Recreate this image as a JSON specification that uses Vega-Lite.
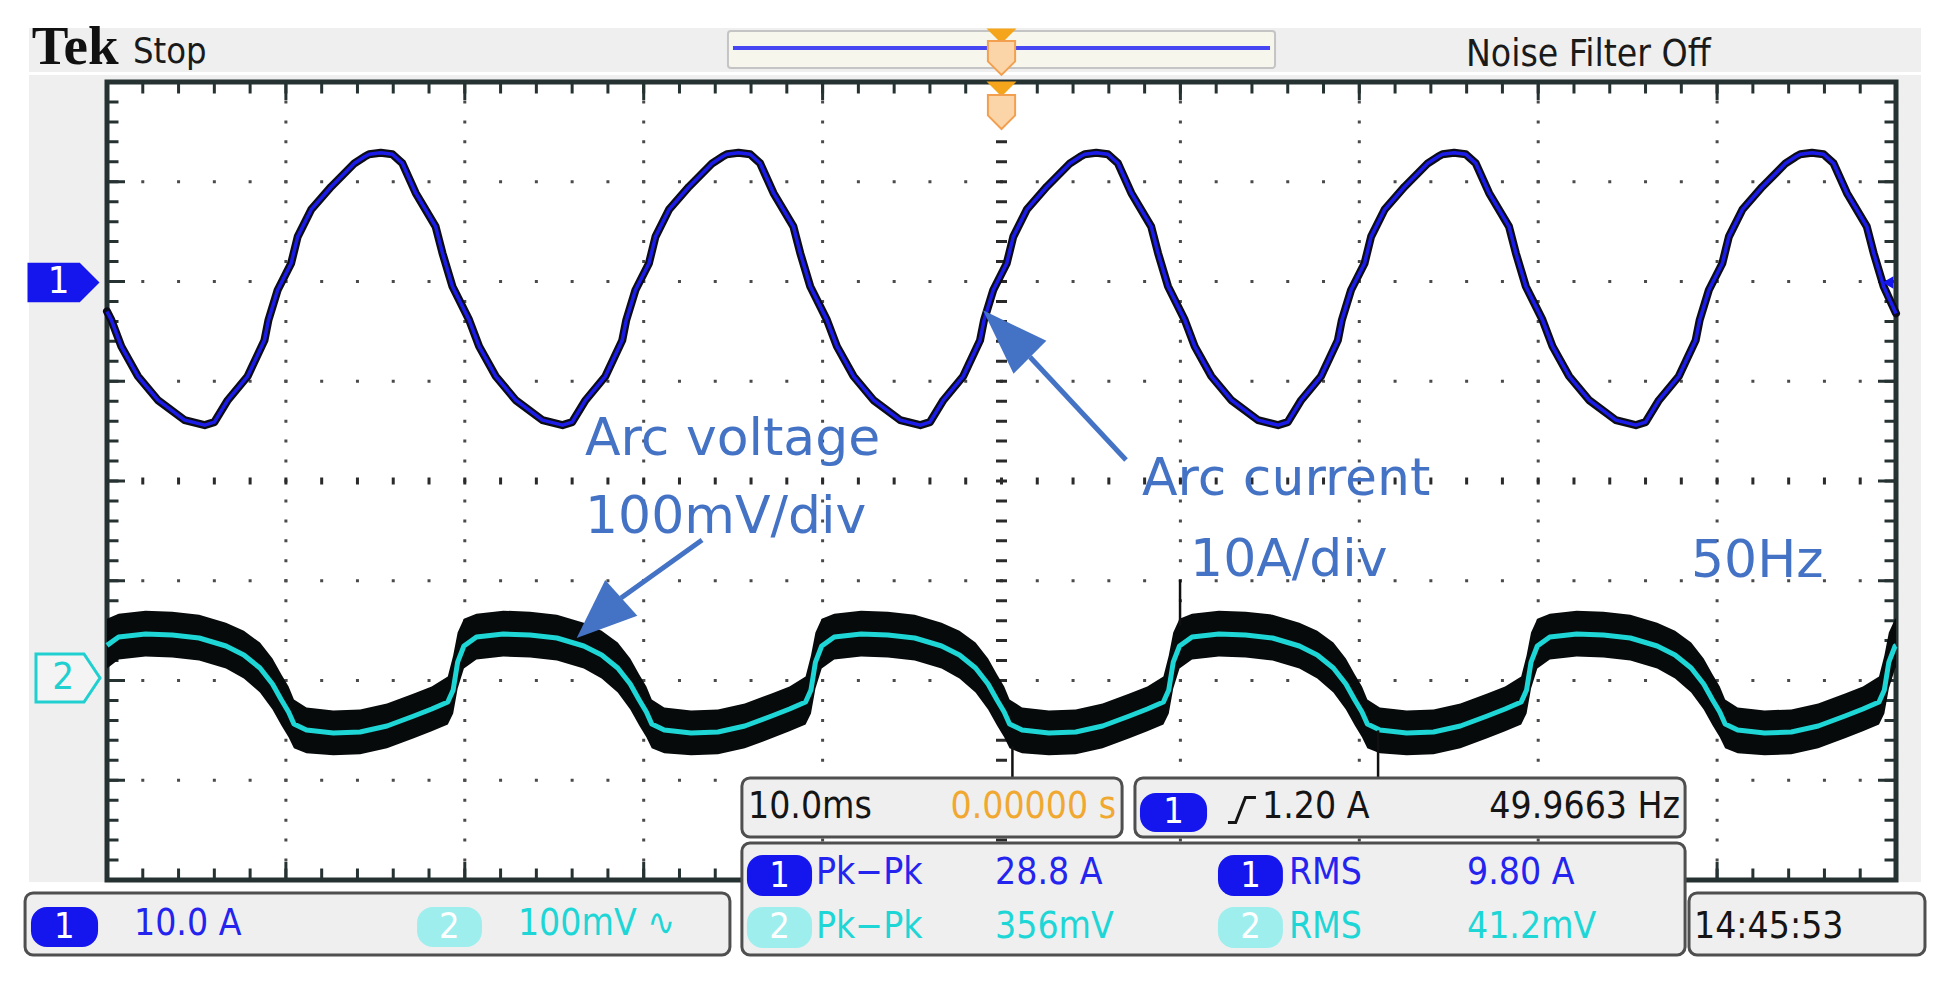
{
"$schema":"https://vega.github.io/schema/vega-lite/v6.json",
"width":1789,"height":798,
"autosize":{"type":"none"},
"padding":{"left":107,"top":82,"right":55,"bottom":118},
"background":"#ffffff",
"config":{"view":{"stroke":null}},
"datasets":{
"cur":[{"t":-50,"a":-3},{"t":-49.76,"a":-3.85},{"t":-49.2,"a":-6.5},{"t":-48.27,"a":-9.5},{"t":-47.15,"a":-11.9},{"t":-45.66,"a":-13.9},{"t":-44.54,"a":-14.4},
{"t":-44,"a":-14.1},{"t":-43.25,"a":-11.9},{"t":-42.14,"a":-9.5},{"t":-41.2,"a":-5.9},{"t":-40.98,"a":-3.9},{"t":-40.46,"a":-0.85},{"t":-39.71,"a":1.8},{"t":-39.34,"a":4.5},{"t":-38.59,"a":7.2},{"t":-37.47,"a":9.5},{"t":-36.17,"a":11.85},{"t":-35.61,"a":12.5},{"t":-35.35,"a":12.75},{"t":-34.7,"a":12.9},{"t":-34.05,"a":12.75},{"t":-33.49,"a":11.85},{"t":-32.74,"a":8.85},{"t":-31.63,"a":5.5},{"t":-31.25,"a":2.85},{"t":-30.69,"a":-0.5},{"t":-29.76,"a":-3.85},{"t":-29.2,"a":-6.5},{"t":-28.27,"a":-9.5},{"t":-27.15,"a":-11.9},{"t":-25.66,"a":-13.9},{"t":-24.54,"a":-14.4},
{"t":-24,"a":-14.1},{"t":-23.25,"a":-11.9},{"t":-22.14,"a":-9.5},{"t":-21.2,"a":-5.9},{"t":-20.98,"a":-3.9},{"t":-20.46,"a":-0.85},{"t":-19.71,"a":1.8},{"t":-19.34,"a":4.5},{"t":-18.59,"a":7.2},{"t":-17.47,"a":9.5},{"t":-16.17,"a":11.85},{"t":-15.61,"a":12.5},{"t":-15.35,"a":12.75},{"t":-14.7,"a":12.9},{"t":-14.05,"a":12.75},{"t":-13.49,"a":11.85},{"t":-12.74,"a":8.85},{"t":-11.63,"a":5.5},{"t":-11.25,"a":2.85},{"t":-10.69,"a":-0.5},{"t":-9.76,"a":-3.85},{"t":-9.2,"a":-6.5},{"t":-8.27,"a":-9.5},{"t":-7.15,"a":-11.9},{"t":-5.66,"a":-13.9},{"t":-4.54,"a":-14.4},
{"t":-4,"a":-14.1},{"t":-3.25,"a":-11.9},{"t":-2.14,"a":-9.5},{"t":-1.2,"a":-5.9},{"t":-0.98,"a":-3.9},{"t":-0.46,"a":-0.85},{"t":0.29,"a":1.8},{"t":0.66,"a":4.5},{"t":1.41,"a":7.2},{"t":2.53,"a":9.5},{"t":3.83,"a":11.85},{"t":4.39,"a":12.5},{"t":4.65,"a":12.75},{"t":5.3,"a":12.9},{"t":5.95,"a":12.75},{"t":6.51,"a":11.85},{"t":7.26,"a":8.85},{"t":8.37,"a":5.5},{"t":8.75,"a":2.85},{"t":9.31,"a":-0.5},{"t":10.24,"a":-3.85},{"t":10.8,"a":-6.5},{"t":11.73,"a":-9.5},{"t":12.85,"a":-11.9},{"t":14.34,"a":-13.9},{"t":15.46,"a":-14.4},
{"t":16,"a":-14.1},{"t":16.75,"a":-11.9},{"t":17.86,"a":-9.5},{"t":18.8,"a":-5.9},{"t":19.02,"a":-3.9},{"t":19.54,"a":-0.85},{"t":20.29,"a":1.8},{"t":20.66,"a":4.5},{"t":21.41,"a":7.2},{"t":22.53,"a":9.5},{"t":23.83,"a":11.85},{"t":24.39,"a":12.5},{"t":24.65,"a":12.75},{"t":25.3,"a":12.9},{"t":25.95,"a":12.75},{"t":26.51,"a":11.85},{"t":27.26,"a":8.85},{"t":28.37,"a":5.5},{"t":28.75,"a":2.85},{"t":29.31,"a":-0.5},{"t":30.24,"a":-3.85},{"t":30.8,"a":-6.5},{"t":31.73,"a":-9.5},{"t":32.85,"a":-11.9},{"t":34.34,"a":-13.9},{"t":35.46,"a":-14.4},
{"t":36,"a":-14.1},{"t":36.75,"a":-11.9},{"t":37.86,"a":-9.5},{"t":38.8,"a":-5.9},{"t":39.02,"a":-3.9},{"t":39.54,"a":-0.85},{"t":40.29,"a":1.8},{"t":40.66,"a":4.5},{"t":41.41,"a":7.2},{"t":42.53,"a":9.5},{"t":43.83,"a":11.85},{"t":44.39,"a":12.5},{"t":44.65,"a":12.75},{"t":45.3,"a":12.9},{"t":45.95,"a":12.75},{"t":46.51,"a":11.85},{"t":47.26,"a":8.85},{"t":48.37,"a":5.5},{"t":48.75,"a":2.85},{"t":49.31,"a":-0.5},{"t":50,"a":-3.2}],
"volt":[{"t":-50,"v":35.2,"hi":62,"lo":12},{"t":-49.35,"v":43.6,"hi":67,"lo":21},{"t":-47.85,"v":46.6,"hi":70,"lo":24},{"t":-46.35,"v":45.6,"hi":69,"lo":23},{"t":-44.85,"v":42.6,"hi":66,"lo":20},{"t":-43.35,"v":34.6,"hi":58,"lo":12},{"t":-42.35,"v":25.6,"hi":50,"lo":2},{"t":-41.45,"v":12.5,"hi":38,"lo":-12},{"t":-40.75,"v":-3.5,"hi":22,"lo":-29},{"t":-40.25,"v":-19.5,"hi":6,"lo":-45},
{"t":-39.85,"v":-31.6,"hi":-6,"lo":-57},{"t":-39.55,"v":-43.6,"hi":-19,"lo":-68},{"t":-38.85,"v":-49.6,"hi":-27,"lo":-73},{"t":-37.35,"v":-52.6,"hi":-30,"lo":-75},{"t":-35.85,"v":-51.6,"hi":-29,"lo":-74},{"t":-34.35,"v":-45.6,"hi":-23,"lo":-68},{"t":-32.85,"v":-35.6,"hi":-13,"lo":-58},{"t":-31.85,"v":-28.6,"hi":-6,"lo":-51},{"t":-30.95,"v":-21.6,"hi":4,"lo":-44},{"t":-30.65,"v":-9.5,"hi":25,"lo":-33},{"t":-30.4,"v":18.5,"hi":48,"lo":-8},{"t":-30.05,"v":34.6,"hi":62,"lo":12},{"t":-29.35,"v":43.6,"hi":67,"lo":21},{"t":-27.85,"v":46.6,"hi":70,"lo":24},{"t":-26.35,"v":45.6,"hi":69,"lo":23},{"t":-24.85,"v":42.6,"hi":66,"lo":20},{"t":-23.35,"v":34.6,"hi":58,"lo":12},{"t":-22.35,"v":25.6,"hi":50,"lo":2},{"t":-21.45,"v":12.5,"hi":38,"lo":-12},{"t":-20.75,"v":-3.5,"hi":22,"lo":-29},{"t":-20.25,"v":-19.5,"hi":6,"lo":-45},
{"t":-19.85,"v":-31.6,"hi":-6,"lo":-57},{"t":-19.55,"v":-43.6,"hi":-19,"lo":-68},{"t":-18.85,"v":-49.6,"hi":-27,"lo":-73},{"t":-17.35,"v":-52.6,"hi":-30,"lo":-75},{"t":-15.85,"v":-51.6,"hi":-29,"lo":-74},{"t":-14.35,"v":-45.6,"hi":-23,"lo":-68},{"t":-12.85,"v":-35.6,"hi":-13,"lo":-58},{"t":-11.85,"v":-28.6,"hi":-6,"lo":-51},{"t":-10.95,"v":-21.6,"hi":4,"lo":-44},{"t":-10.65,"v":-9.5,"hi":25,"lo":-33},{"t":-10.4,"v":18.5,"hi":48,"lo":-8},{"t":-10.05,"v":34.6,"hi":62,"lo":12},{"t":-9.35,"v":43.6,"hi":67,"lo":21},{"t":-7.85,"v":46.6,"hi":70,"lo":24},{"t":-6.35,"v":45.6,"hi":69,"lo":23},{"t":-4.85,"v":42.6,"hi":66,"lo":20},{"t":-3.35,"v":34.6,"hi":58,"lo":12},{"t":-2.35,"v":25.6,"hi":50,"lo":2},{"t":-1.45,"v":12.5,"hi":38,"lo":-12},{"t":-0.75,"v":-3.5,"hi":22,"lo":-29},{"t":-0.25,"v":-19.5,"hi":6,"lo":-45},
{"t":0.15,"v":-31.6,"hi":-6,"lo":-57},{"t":0.45,"v":-43.6,"hi":-19,"lo":-68},{"t":1.15,"v":-49.6,"hi":-27,"lo":-73},{"t":2.65,"v":-52.6,"hi":-30,"lo":-75},{"t":4.15,"v":-51.6,"hi":-29,"lo":-74},{"t":5.65,"v":-45.6,"hi":-23,"lo":-68},{"t":7.15,"v":-35.6,"hi":-13,"lo":-58},{"t":8.15,"v":-28.6,"hi":-6,"lo":-51},{"t":9.05,"v":-21.6,"hi":4,"lo":-44},{"t":9.35,"v":-9.5,"hi":25,"lo":-33},{"t":9.6,"v":18.5,"hi":48,"lo":-8},{"t":9.95,"v":34.6,"hi":62,"lo":12},{"t":10.65,"v":43.6,"hi":67,"lo":21},{"t":12.15,"v":46.6,"hi":70,"lo":24},{"t":13.65,"v":45.6,"hi":69,"lo":23},{"t":15.15,"v":42.6,"hi":66,"lo":20},{"t":16.65,"v":34.6,"hi":58,"lo":12},{"t":17.65,"v":25.6,"hi":50,"lo":2},{"t":18.55,"v":12.5,"hi":38,"lo":-12},{"t":19.25,"v":-3.5,"hi":22,"lo":-29},{"t":19.75,"v":-19.5,"hi":6,"lo":-45},
{"t":20.15,"v":-31.6,"hi":-6,"lo":-57},{"t":20.45,"v":-43.6,"hi":-19,"lo":-68},{"t":21.15,"v":-49.6,"hi":-27,"lo":-73},{"t":22.65,"v":-52.6,"hi":-30,"lo":-75},{"t":24.15,"v":-51.6,"hi":-29,"lo":-74},{"t":25.65,"v":-45.6,"hi":-23,"lo":-68},{"t":27.15,"v":-35.6,"hi":-13,"lo":-58},{"t":28.15,"v":-28.6,"hi":-6,"lo":-51},{"t":29.05,"v":-21.6,"hi":4,"lo":-44},{"t":29.35,"v":-9.5,"hi":25,"lo":-33},{"t":29.6,"v":18.5,"hi":48,"lo":-8},{"t":29.95,"v":34.6,"hi":62,"lo":12},{"t":30.65,"v":43.6,"hi":67,"lo":21},{"t":32.15,"v":46.6,"hi":70,"lo":24},{"t":33.65,"v":45.6,"hi":69,"lo":23},{"t":35.15,"v":42.6,"hi":66,"lo":20},{"t":36.65,"v":34.6,"hi":58,"lo":12},{"t":37.65,"v":25.6,"hi":50,"lo":2},{"t":38.55,"v":12.5,"hi":38,"lo":-12},{"t":39.25,"v":-3.5,"hi":22,"lo":-29},{"t":39.75,"v":-19.5,"hi":6,"lo":-45},
{"t":40.15,"v":-31.6,"hi":-6,"lo":-57},{"t":40.45,"v":-43.6,"hi":-19,"lo":-68},{"t":41.15,"v":-49.6,"hi":-27,"lo":-73},{"t":42.65,"v":-52.6,"hi":-30,"lo":-75},{"t":44.15,"v":-51.6,"hi":-29,"lo":-74},{"t":45.65,"v":-45.6,"hi":-23,"lo":-68},{"t":47.15,"v":-35.6,"hi":-13,"lo":-58},{"t":48.15,"v":-28.6,"hi":-6,"lo":-51},{"t":49.05,"v":-21.6,"hi":4,"lo":-44},{"t":49.35,"v":-9.5,"hi":25,"lo":-33},{"t":49.6,"v":18.5,"hi":48,"lo":-8},{"t":49.95,"v":34.6,"hi":62,"lo":12},{"t":50,"v":35,"hi":62,"lo":13}]
},
"layer":[
{"data":{"values":[{"gx":-0.436,"gx2":10.14,"gy":4.541,"gy2":-4.02}]},"mark":{"type":"rect","fill":"#efefef"},
 "encoding":{"x":{"field":"gx","type":"quantitative","scale":{"domain":[0,10],"nice":false,"zero":false},"axis":null},"x2":{"field":"gx2"},"y":{"field":"gy","type":"quantitative","scale":{"domain":[-4,4],"nice":false,"zero":false},"axis":null},"y2":{"field":"gy2"}}},
{"data":{"values":[{"gx":-0.436,"gx2":10.14,"gy":4.085}]},"mark":{"type":"rule","color":"#ffffff","strokeWidth":3},
 "encoding":{"x":{"field":"gx","type":"quantitative","scale":{"domain":[0,10],"nice":false,"zero":false},"axis":null},"x2":{"field":"gx2"},"y":{"field":"gy","type":"quantitative","scale":{"domain":[-4,4],"nice":false,"zero":false},"axis":null}}},
{"data":{"values":[{"gx":3.471,"gx2":6.529,"gy":4.511,"gy2":4.14}]},"mark":{"type":"rect","fill":"#f6f6ec","stroke":"#c4c4c4","strokeWidth":2,"cornerRadius":3},
 "encoding":{"x":{"field":"gx","type":"quantitative","scale":{"domain":[0,10],"nice":false,"zero":false},"axis":null},"x2":{"field":"gx2"},"y":{"field":"gy","type":"quantitative","scale":{"domain":[-4,4],"nice":false,"zero":false},"axis":null},"y2":{"field":"gy2"}}},
{"data":{"values":[{"gx":3.499,"gx2":6.501,"gy":4.341}]},"mark":{"type":"rule","color":"#4646f2","strokeWidth":4},
 "encoding":{"x":{"field":"gx","type":"quantitative","scale":{"domain":[0,10],"nice":false,"zero":false},"axis":null},"x2":{"field":"gx2"},"y":{"field":"gy","type":"quantitative","scale":{"domain":[-4,4],"nice":false,"zero":false},"axis":null}}},
{"data":{"values":[{"gx":0,"gx2":10,"gy":-4,"gy2":4}]},"mark":{"type":"rect","fill":"#ffffff","stroke":"#263232","strokeWidth":5},
 "encoding":{"x":{"field":"gx","type":"quantitative","scale":{"domain":[0,10],"nice":false,"zero":false},"axis":null},"x2":{"field":"gx2"},"y":{"field":"gy","type":"quantitative","scale":{"domain":[-4,4],"nice":false,"zero":false},"axis":null},"y2":{"field":"gy2"}}},
{"data":{"values":[{"gx":1},{"gx":2},{"gx":3},{"gx":4},{"gx":6},{"gx":7},{"gx":8},{"gx":9}]},"mark":{"type":"rule","color":"#4a4a4a","strokeWidth":3,"strokeDash":[3,16.95],"strokeDashOffset":1.5},
 "encoding":{"x":{"field":"gx","type":"quantitative","scale":{"domain":[0,10],"nice":false,"zero":false},"axis":null},"y":{"datum":-4,"type":"quantitative","scale":{"domain":[-4,4],"nice":false,"zero":false},"axis":null},"y2":{"datum":4}}},
{"data":{"values":[{"gy":-3},{"gy":-2},{"gy":-1},{"gy":1},{"gy":2},{"gy":3}]},"mark":{"type":"rule","color":"#4a4a4a","strokeWidth":3,"strokeDash":[3,32.78],"strokeDashOffset":1.5},
 "encoding":{"y":{"field":"gy","type":"quantitative","scale":{"domain":[-4,4],"nice":false,"zero":false},"axis":null},"x":{"datum":0,"type":"quantitative","scale":{"domain":[0,10],"nice":false,"zero":false},"axis":null},"x2":{"datum":10}}},
{"data":{"values":[{"gx":5}]},"mark":{"type":"rule","color":"#2a2a2a","strokeWidth":11,"strokeDash":[3,16.95],"strokeDashOffset":1.5},
 "encoding":{"x":{"field":"gx","type":"quantitative","scale":{"domain":[0,10],"nice":false,"zero":false},"axis":null},"y":{"datum":-4,"type":"quantitative","scale":{"domain":[-4,4],"nice":false,"zero":false},"axis":null},"y2":{"datum":4}}},
{"data":{"values":[{"gy":0}]},"mark":{"type":"rule","color":"#2a2a2a","strokeWidth":7,"strokeDash":[3,32.78],"strokeDashOffset":1.5},
 "encoding":{"y":{"field":"gy","type":"quantitative","scale":{"domain":[-4,4],"nice":false,"zero":false},"axis":null},"x":{"datum":0,"type":"quantitative","scale":{"domain":[0,10],"nice":false,"zero":false},"axis":null},"x2":{"datum":10}}},
{"data":{"values":[{"gx":0}]},"mark":{"type":"rule","color":"#263232","strokeWidth":13,"xOffset":5,"strokeDash":[3,16.95],"strokeDashOffset":1.5},
 "encoding":{"x":{"field":"gx","type":"quantitative","scale":{"domain":[0,10],"nice":false,"zero":false},"axis":null},"y":{"datum":-4,"type":"quantitative","scale":{"domain":[-4,4],"nice":false,"zero":false},"axis":null},"y2":{"datum":4}}},
{"data":{"values":[{"gx":10}]},"mark":{"type":"rule","color":"#263232","strokeWidth":13,"xOffset":-5,"strokeDash":[3,16.95],"strokeDashOffset":1.5},
 "encoding":{"x":{"field":"gx","type":"quantitative","scale":{"domain":[0,10],"nice":false,"zero":false},"axis":null},"y":{"datum":-4,"type":"quantitative","scale":{"domain":[-4,4],"nice":false,"zero":false},"axis":null},"y2":{"datum":4}}},
{"data":{"values":[{"gx":0}]},"mark":{"type":"rule","color":"#263232","strokeWidth":20,"xOffset":8,"strokeDash":[3,96.75],"strokeDashOffset":1.5},
 "encoding":{"x":{"field":"gx","type":"quantitative","scale":{"domain":[0,10],"nice":false,"zero":false},"axis":null},"y":{"datum":-4,"type":"quantitative","scale":{"domain":[-4,4],"nice":false,"zero":false},"axis":null},"y2":{"datum":4}}},
{"data":{"values":[{"gx":10}]},"mark":{"type":"rule","color":"#263232","strokeWidth":20,"xOffset":-8,"strokeDash":[3,96.75],"strokeDashOffset":1.5},
 "encoding":{"x":{"field":"gx","type":"quantitative","scale":{"domain":[0,10],"nice":false,"zero":false},"axis":null},"y":{"datum":-4,"type":"quantitative","scale":{"domain":[-4,4],"nice":false,"zero":false},"axis":null},"y2":{"datum":4}}},
{"data":{"values":[{"gy":4}]},"mark":{"type":"rule","color":"#263232","strokeWidth":13,"yOffset":5,"strokeDash":[3,32.78],"strokeDashOffset":1.5},
 "encoding":{"y":{"field":"gy","type":"quantitative","scale":{"domain":[-4,4],"nice":false,"zero":false},"axis":null},"x":{"datum":0,"type":"quantitative","scale":{"domain":[0,10],"nice":false,"zero":false},"axis":null},"x2":{"datum":10}}},
{"data":{"values":[{"gy":-4}]},"mark":{"type":"rule","color":"#263232","strokeWidth":13,"yOffset":-5,"strokeDash":[3,32.78],"strokeDashOffset":1.5},
 "encoding":{"y":{"field":"gy","type":"quantitative","scale":{"domain":[-4,4],"nice":false,"zero":false},"axis":null},"x":{"datum":0,"type":"quantitative","scale":{"domain":[0,10],"nice":false,"zero":false},"axis":null},"x2":{"datum":10}}},
{"data":{"values":[{"gy":4}]},"mark":{"type":"rule","color":"#263232","strokeWidth":20,"yOffset":8,"strokeDash":[3,175.9],"strokeDashOffset":1.5},
 "encoding":{"y":{"field":"gy","type":"quantitative","scale":{"domain":[-4,4],"nice":false,"zero":false},"axis":null},"x":{"datum":0,"type":"quantitative","scale":{"domain":[0,10],"nice":false,"zero":false},"axis":null},"x2":{"datum":10}}},
{"data":{"values":[{"gy":-4}]},"mark":{"type":"rule","color":"#263232","strokeWidth":20,"yOffset":-8,"strokeDash":[3,175.9],"strokeDashOffset":1.5},
 "encoding":{"y":{"field":"gy","type":"quantitative","scale":{"domain":[-4,4],"nice":false,"zero":false},"axis":null},"x":{"datum":0,"type":"quantitative","scale":{"domain":[0,10],"nice":false,"zero":false},"axis":null},"x2":{"datum":10}}},
{"data":{"name":"cur"},"mark":{"type":"line","color":"#0c0c16","strokeWidth":8,"strokeJoin":"round","strokeCap":"round"},
 "encoding":{"x":{"field":"t","type":"quantitative","scale":{"domain":[-50,50],"nice":false,"zero":false},"axis":null},"y":{"field":"a","type":"quantitative","scale":{"domain":[-60,20],"nice":false,"zero":false},"axis":null}}},
{"data":{"name":"cur"},"mark":{"type":"line","color":"#1c1ce8","strokeWidth":3.5,"strokeJoin":"round"},
 "encoding":{"x":{"field":"t","type":"quantitative","scale":{"domain":[-50,50],"nice":false,"zero":false},"axis":null},"y":{"field":"a","type":"quantitative","scale":{"domain":[-60,20],"nice":false,"zero":false},"axis":null}}},
{"data":{"name":"volt"},"mark":{"type":"area","color":"#060a0a","opacity":1},
 "encoding":{"x":{"field":"t","type":"quantitative","scale":{"domain":[-50,50],"nice":false,"zero":false},"axis":null},"y":{"field":"hi","type":"quantitative","scale":{"domain":[-200,600],"nice":false,"zero":false},"axis":null},"y2":{"field":"lo"}}},
{"data":{"name":"volt"},"mark":{"type":"line","color":"#1fd6d6","strokeWidth":5,"strokeJoin":"round"},
 "encoding":{"x":{"field":"t","type":"quantitative","scale":{"domain":[-50,50],"nice":false,"zero":false},"axis":null},"y":{"field":"v","type":"quantitative","scale":{"domain":[-200,600],"nice":false,"zero":false},"axis":null}}},
{"data":{"values":[{"t":0.61,"v1":-66,"v2":-100},{"t":9.98,"v1":55,"v2":101},{"t":21.05,"v1":-50,"v2":-97}]},"mark":{"type":"rule","color":"#101010","strokeWidth":2.5},
 "encoding":{"x":{"field":"t","type":"quantitative","scale":{"domain":[-50,50],"nice":false,"zero":false},"axis":null},"y":{"field":"v1","type":"quantitative","scale":{"domain":[-200,600],"nice":false,"zero":false},"axis":null},"y2":{"field":"v2"}}},
{"data":{"values":[{"gx":5,"gy":3.93},{"gx":5,"gy":4.461}]},"mark":{"type":"point","shape":"M-1,-0.5L1,-0.5L0,0.5Z","size":900,"filled":true,"opacity":1,"fill":"#f5a51c","strokeWidth":0},
 "encoding":{"x":{"field":"gx","type":"quantitative","scale":{"domain":[0,10],"nice":false,"zero":false},"axis":null},"y":{"field":"gy","type":"quantitative","scale":{"domain":[-4,4],"nice":false,"zero":false},"axis":null}}},
{"data":{"values":[{"gx":5,"gy":3.699},{"gx":5,"gy":4.241}]},"mark":{"type":"point","shape":"M-0.8,-1L0.8,-1L0.8,0.2L0,1L-0.8,0.2Z","size":1156,"filled":true,"opacity":1,"fill":"#fbd5a8","stroke":"#f2a050","strokeWidth":2},
 "encoding":{"x":{"field":"gx","type":"quantitative","scale":{"domain":[0,10],"nice":false,"zero":false},"axis":null},"y":{"field":"gy","type":"quantitative","scale":{"domain":[-4,4],"nice":false,"zero":false},"axis":null}}},
{"data":{"values":[{"gx":-0.243,"gy":1.99}]},"mark":{"type":"point","shape":"M-1,-0.55L0.45,-0.55L1,0L0.45,0.55L-1,0.55Z","size":5184,"filled":true,"opacity":1,"fill":"#1515ee","strokeWidth":0},
 "encoding":{"x":{"field":"gx","type":"quantitative","scale":{"domain":[0,10],"nice":false,"zero":false},"axis":null},"y":{"field":"gy","type":"quantitative","scale":{"domain":[-4,4],"nice":false,"zero":false},"axis":null}}},
{"data":{"values":[{"gx":-0.218,"gy":-1.975}]},"mark":{"type":"point","shape":"M-1,-0.75L0.5,-0.75L1,0L0.5,0.75L-1,0.75Z","size":4096,"filled":true,"opacity":1,"fill":"#f4f4f4","stroke":"#20d0d0","strokeWidth":3},
 "encoding":{"x":{"field":"gx","type":"quantitative","scale":{"domain":[0,10],"nice":false,"zero":false},"axis":null},"y":{"field":"gy","type":"quantitative","scale":{"domain":[-4,4],"nice":false,"zero":false},"axis":null}}},
{"data":{"values":[{"gx":9.955,"gy":1.99}]},"mark":{"type":"point","shape":"triangle-left","size":160,"filled":true,"opacity":1,"fill":"#1515ee","strokeWidth":0},
 "encoding":{"x":{"field":"gx","type":"quantitative","scale":{"domain":[0,10],"nice":false,"zero":false},"axis":null},"y":{"field":"gy","type":"quantitative","scale":{"domain":[-4,4],"nice":false,"zero":false},"axis":null}}},
{"data":{"values":[{"gx":-0.27,"gy":1.99,"s":"1"}]},"mark":{"type":"text","color":"#ffffff","font":"'DejaVu Sans Condensed',sans-serif","fontSize":38,"align":"center","baseline":"middle"},
 "encoding":{"x":{"field":"gx","type":"quantitative","scale":{"domain":[0,10],"nice":false,"zero":false},"axis":null},"y":{"field":"gy","type":"quantitative","scale":{"domain":[-4,4],"nice":false,"zero":false},"axis":null},"text":{"field":"s"}}},
{"data":{"values":[{"gx":-0.245,"gy":-1.975,"s":"2"}]},"mark":{"type":"text","color":"#20d0d0","font":"'DejaVu Sans Condensed',sans-serif","fontSize":38,"align":"center","baseline":"middle"},
 "encoding":{"x":{"field":"gx","type":"quantitative","scale":{"domain":[0,10],"nice":false,"zero":false},"axis":null},"y":{"field":"gy","type":"quantitative","scale":{"domain":[-4,4],"nice":false,"zero":false},"axis":null},"text":{"field":"s"}}},
{"data":{"values":[{"gx":-0.42,"gy":4.18,"s":"Tek"}]},"mark":{"type":"text","color":"#111111","font":"'Liberation Serif','DejaVu Serif',serif","fontWeight":"bold","fontSize":55,"align":"left","baseline":"alphabetic"},
 "encoding":{"x":{"field":"gx","type":"quantitative","scale":{"domain":[0,10],"nice":false,"zero":false},"axis":null},"y":{"field":"gy","type":"quantitative","scale":{"domain":[-4,4],"nice":false,"zero":false},"axis":null},"text":{"field":"s"}}},
{"data":{"values":[{"gx":0.145,"gy":4.19,"s":"Stop"}]},"mark":{"type":"text","color":"#1a1a1a","font":"'DejaVu Sans Condensed',sans-serif","fontSize":36,"align":"left","baseline":"alphabetic"},
 "encoding":{"x":{"field":"gx","type":"quantitative","scale":{"domain":[0,10],"nice":false,"zero":false},"axis":null},"y":{"field":"gy","type":"quantitative","scale":{"domain":[-4,4],"nice":false,"zero":false},"axis":null},"text":{"field":"s"}}},
{"data":{"values":[{"gx":7.596,"gy":4.165,"s":"Noise Filter Off"}]},"mark":{"type":"text","color":"#1a1a1a","font":"'DejaVu Sans Condensed',sans-serif","fontSize":37,"align":"left","baseline":"alphabetic"},
 "encoding":{"x":{"field":"gx","type":"quantitative","scale":{"domain":[0,10],"nice":false,"zero":false},"axis":null},"y":{"field":"gy","type":"quantitative","scale":{"domain":[-4,4],"nice":false,"zero":false},"axis":null},"text":{"field":"s"}}},
{"data":{"values":[{"gx":-0.458,"gx2":3.482,"gy":-4.13,"gy2":-4.752},{"gx":3.549,"gx2":5.674,"gy":-2.977,"gy2":-3.569},{"gx":5.746,"gx2":8.821,"gy":-2.977,"gy2":-3.569},{"gx":3.549,"gx2":8.821,"gy":-3.629,"gy2":-4.752},{"gx":8.843,"gx2":10.162,"gy":-4.13,"gy2":-4.752}]},"mark":{"type":"rect","fill":"#efefef","stroke":"#4f4f4f","strokeWidth":3,"cornerRadius":8},
 "encoding":{"x":{"field":"gx","type":"quantitative","scale":{"domain":[0,10],"nice":false,"zero":false},"axis":null},"x2":{"field":"gx2"},"y":{"field":"gy","type":"quantitative","scale":{"domain":[-4,4],"nice":false,"zero":false},"axis":null},"y2":{"field":"gy2"}}},
{"data":{"values":[{"gx":-0.425,"gx2":-0.05,"gy":-4.271,"gy2":-4.672},{"gx":5.774,"gx2":6.149,"gy":-3.128,"gy2":-3.519},{"gx":3.577,"gx2":3.941,"gy":-3.749,"gy2":-4.16},{"gx":6.21,"gx2":6.573,"gy":-3.749,"gy2":-4.16}]},"mark":{"type":"rect","fill":"#1515ee","cornerRadius":16},
 "encoding":{"x":{"field":"gx","type":"quantitative","scale":{"domain":[0,10],"nice":false,"zero":false},"axis":null},"x2":{"field":"gx2"},"y":{"field":"gy","type":"quantitative","scale":{"domain":[-4,4],"nice":false,"zero":false},"axis":null},"y2":{"field":"gy2"}}},
{"data":{"values":[{"gx":1.733,"gx2":2.096,"gy":-4.271,"gy2":-4.672},{"gx":3.577,"gx2":3.941,"gy":-4.271,"gy2":-4.682},{"gx":6.21,"gx2":6.573,"gy":-4.271,"gy2":-4.682}]},"mark":{"type":"rect","fill":"#9eeeee","cornerRadius":16},
 "encoding":{"x":{"field":"gx","type":"quantitative","scale":{"domain":[0,10],"nice":false,"zero":false},"axis":null},"x2":{"field":"gx2"},"y":{"field":"gy","type":"quantitative","scale":{"domain":[-4,4],"nice":false,"zero":false},"axis":null},"y2":{"field":"gy2"}}},
{"data":{"values":[{"gx":-0.238,"gy":-4.471,"s":"1"},{"gx":1.914,"gy":-4.471,"s":"2"},{"gx":5.961,"gy":-3.323,"s":"1"},{"gx":3.759,"gy":-3.955,"s":"1"},{"gx":6.392,"gy":-3.955,"s":"1"},{"gx":3.759,"gy":-4.476,"s":"2"},{"gx":6.392,"gy":-4.476,"s":"2"}]},"mark":{"type":"text","color":"#ffffff","font":"'DejaVu Sans Condensed',sans-serif","fontSize":36,"align":"center","baseline":"middle"},
 "encoding":{"x":{"field":"gx","type":"quantitative","scale":{"domain":[0,10],"nice":false,"zero":false},"axis":null},"y":{"field":"gy","type":"quantitative","scale":{"domain":[-4,4],"nice":false,"zero":false},"axis":null},"text":{"field":"s"}}},
{"data":{"values":[{"gx":0.151,"gy":-4.441,"s":"10.0 A"},{"gx":3.963,"gy":-3.93,"s":"Pk−Pk"},{"gx":4.964,"gy":-3.93,"s":"28.8 A"},{"gx":6.607,"gy":-3.93,"s":"RMS"},{"gx":7.602,"gy":-3.93,"s":"9.80 A"}]},"mark":{"type":"text","color":"#2424ee","font":"'DejaVu Sans Condensed',sans-serif","fontSize":37,"align":"left","baseline":"middle"},
 "encoding":{"x":{"field":"gx","type":"quantitative","scale":{"domain":[0,10],"nice":false,"zero":false},"axis":null},"y":{"field":"gy","type":"quantitative","scale":{"domain":[-4,4],"nice":false,"zero":false},"axis":null},"text":{"field":"s"}}},
{"data":{"values":[{"gx":2.297,"gy":-4.441,"s":"100mV ∿"},{"gx":3.963,"gy":-4.471,"s":"Pk−Pk"},{"gx":4.964,"gy":-4.471,"s":"356mV"},{"gx":6.607,"gy":-4.471,"s":"RMS"},{"gx":7.602,"gy":-4.471,"s":"41.2mV"}]},"mark":{"type":"text","color":"#1ed6d6","font":"'DejaVu Sans Condensed',sans-serif","fontSize":37,"align":"left","baseline":"middle"},
 "encoding":{"x":{"field":"gx","type":"quantitative","scale":{"domain":[0,10],"nice":false,"zero":false},"axis":null},"y":{"field":"gy","type":"quantitative","scale":{"domain":[-4,4],"nice":false,"zero":false},"axis":null},"text":{"field":"s"}}},
{"data":{"values":[{"gx":3.583,"gy":-3.268,"s":"10.0ms"},{"gx":6.456,"gy":-3.268,"s":"1.20 A"},{"gx":8.871,"gy":-4.471,"s":"14:45:53"}]},"mark":{"type":"text","color":"#151515","font":"'DejaVu Sans Condensed',sans-serif","fontSize":37,"align":"left","baseline":"middle"},
 "encoding":{"x":{"field":"gx","type":"quantitative","scale":{"domain":[0,10],"nice":false,"zero":false},"axis":null},"y":{"field":"gy","type":"quantitative","scale":{"domain":[-4,4],"nice":false,"zero":false},"axis":null},"text":{"field":"s"}}},
{"data":{"values":[{"gx":8.793,"gy":-3.268,"s":"49.9663 Hz"}]},"mark":{"type":"text","color":"#151515","font":"'DejaVu Sans Condensed',sans-serif","fontSize":37,"align":"right","baseline":"middle"},
 "encoding":{"x":{"field":"gx","type":"quantitative","scale":{"domain":[0,10],"nice":false,"zero":false},"axis":null},"y":{"field":"gy","type":"quantitative","scale":{"domain":[-4,4],"nice":false,"zero":false},"axis":null},"text":{"field":"s"}}},
{"data":{"values":[{"gx":5.64,"gy":-3.268,"s":"0.00000 s"}]},"mark":{"type":"text","color":"#f0a830","font":"'DejaVu Sans Condensed',sans-serif","fontSize":37,"align":"right","baseline":"middle"},
 "encoding":{"x":{"field":"gx","type":"quantitative","scale":{"domain":[0,10],"nice":false,"zero":false},"axis":null},"y":{"field":"gy","type":"quantitative","scale":{"domain":[-4,4],"nice":false,"zero":false},"axis":null},"text":{"field":"s"}}},
{"data":{"values":[{"gx":6.344,"gy":-3.298}]},"mark":{"type":"point","shape":"M-1,0.9L-0.45,0.9L0.25,-0.9L1,-0.9","size":784,"filled":false,"opacity":1,"stroke":"#151515","strokeWidth":3},
 "encoding":{"x":{"field":"gx","type":"quantitative","scale":{"domain":[0,10],"nice":false,"zero":false},"axis":null},"y":{"field":"gy","type":"quantitative","scale":{"domain":[-4,4],"nice":false,"zero":false},"axis":null}}},
{"data":{"values":[{"gx":3.326,"gy":-0.591,"gx2":2.873,"gy2":-1.173},{"gx":5.696,"gy":0.211,"gx2":5.159,"gy2":1.243}]},"mark":{"type":"rule","color":"#4472c4","strokeWidth":5},
 "encoding":{"x":{"field":"gx","type":"quantitative","scale":{"domain":[0,10],"nice":false,"zero":false},"axis":null},"x2":{"field":"gx2"},"y":{"field":"gy","type":"quantitative","scale":{"domain":[-4,4],"nice":false,"zero":false},"axis":null},"y2":{"field":"gy2"}}},
{"data":{"values":[{"gx":2.75,"gy":-1.373}]},"mark":{"type":"point","shape":"M0,-1L0.8,1L-0.8,1Z","size":3600,"angle":228,"filled":true,"opacity":1,"fill":"#4472c4","strokeWidth":0},
 "encoding":{"x":{"field":"gx","type":"quantitative","scale":{"domain":[0,10],"nice":false,"zero":false},"axis":null},"y":{"field":"gy","type":"quantitative","scale":{"domain":[-4,4],"nice":false,"zero":false},"axis":null}}},
{"data":{"values":[{"gx":5.028,"gy":1.476}]},"mark":{"type":"point","shape":"M0,-1L0.7,1L-0.7,1Z","size":4400,"angle":315,"filled":true,"opacity":1,"fill":"#4472c4","strokeWidth":0},
 "encoding":{"x":{"field":"gx","type":"quantitative","scale":{"domain":[0,10],"nice":false,"zero":false},"axis":null},"y":{"field":"gy","type":"quantitative","scale":{"domain":[-4,4],"nice":false,"zero":false},"axis":null}}},
{"data":{"values":[{"gx":2.672,"gy":0.26,"s":"Arc voltage"},{"gx":2.672,"gy":-0.521,"s":"100mV/div"},{"gx":5.785,"gy":-0.14,"s":"Arc current"},{"gx":6.054,"gy":-0.952,"s":"10A/div"},{"gx":8.854,"gy":-0.962,"s":"50Hz"}]},"mark":{"type":"text","color":"#4472c4","font":"'DejaVu Sans',sans-serif","fontSize":52,"align":"left","baseline":"alphabetic"},
 "encoding":{"x":{"field":"gx","type":"quantitative","scale":{"domain":[0,10],"nice":false,"zero":false},"axis":null},"y":{"field":"gy","type":"quantitative","scale":{"domain":[-4,4],"nice":false,"zero":false},"axis":null},"text":{"field":"s"}}}
],
"resolve":{"scale":{"x":"independent","y":"independent"}}
}
